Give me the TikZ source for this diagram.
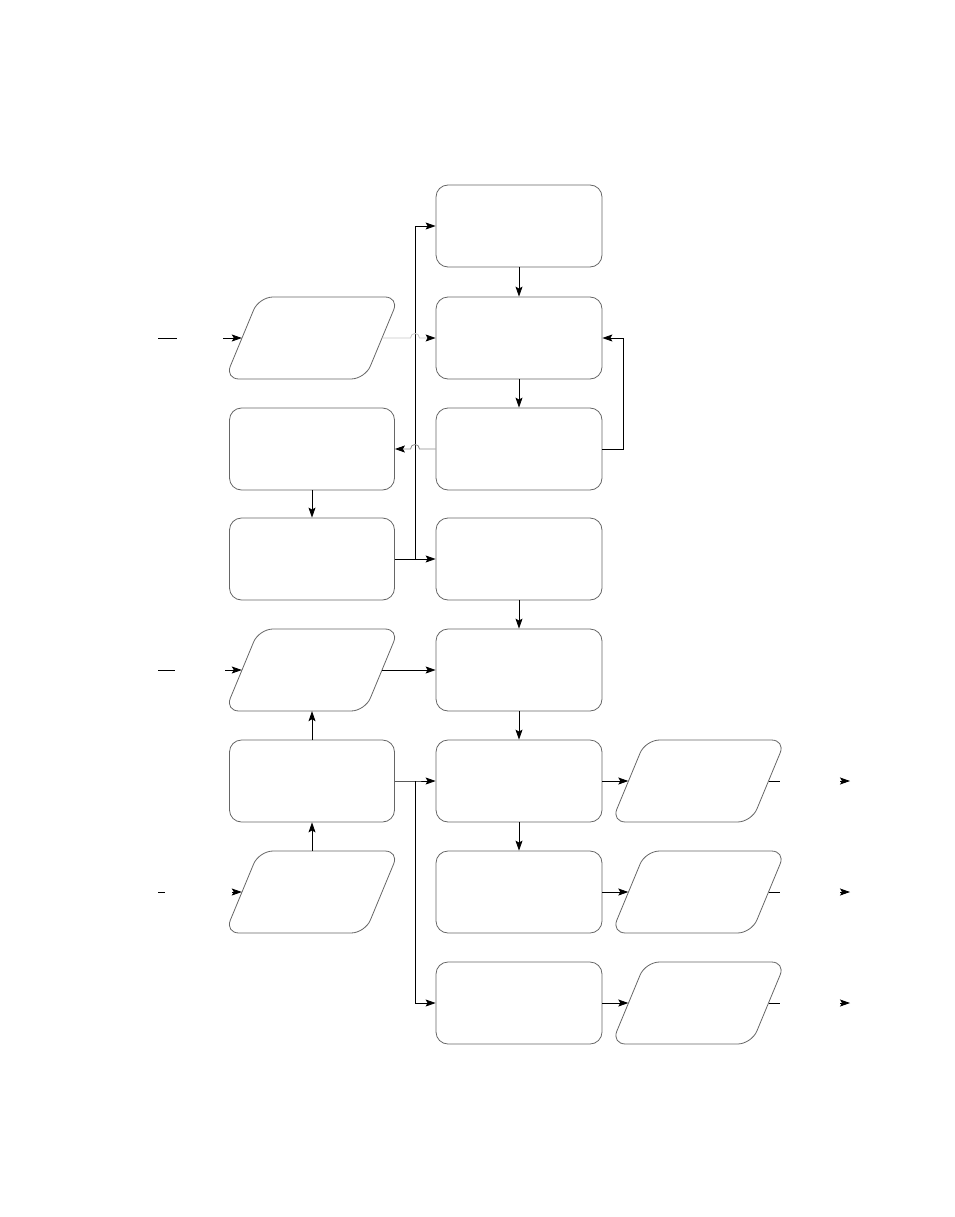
\documentclass[tikz,border=0pt]{standalone}
\usetikzlibrary{arrows.meta}
\begin{document}
\begin{tikzpicture}[x=1pt,y=-1pt,
  boxshape/.style={draw=black!60,line width=0.8pt,rounded corners=12pt,minimum width=166pt,minimum height=82pt,inner sep=0pt},
  anchorbox/.style={minimum width=140pt,minimum height=82pt,inner sep=0pt},
  parashape/.style={draw=black!60,line width=0.8pt,rounded corners=14pt},
  conn/.style={draw=black,line width=0.8pt},
  arr/.style={conn,-{Stealth[length=10pt,width=7pt,inset=2pt,color=black]}},
  garr/.style={draw=black!22,line width=0.8pt,-{Stealth[length=10pt,width=7pt,inset=2pt,color=black]}},
  garr2/.style={draw=black!45,line width=0.8pt,-{Stealth[length=10pt,width=7pt,inset=2pt,color=black]}}
]
\useasboundingbox (0,0) rectangle (954,1217);
\newcommand{\mypara}[3]{%
  \node[anchorbox] (#1) at (#2,#3) {};
  \draw[parashape] (#2-53,#3-41) -- (#2+87,#3-41) -- (#2+53,#3+41) -- (#2-87,#3+41) -- cycle;}
% middle column
\node[boxshape] (m1) at (519,226) {};
\node[boxshape] (m2) at (519,338) {};
\node[boxshape] (m3) at (519,449) {};
\node[boxshape] (m4) at (519,559) {};
\node[boxshape] (m5) at (519,670) {};
\node[boxshape] (m6) at (519,781) {};
\node[boxshape] (m7) at (519,892) {};
\node[boxshape] (m8) at (519,1003) {};
% left column
\mypara{p2}{312}{338}
\node[boxshape,minimum width=165pt] (l3) at (312,449) {};
\node[boxshape,minimum width=165pt] (l4) at (312,559) {};
\mypara{p5}{312}{670}
\node[boxshape,minimum width=165pt] (l6) at (312,781) {};
\mypara{p7}{312}{892}
% right column
\mypara{r6}{698.5}{781}
\mypara{r7}{698.5}{892}
\mypara{r8}{698.5}{1003}
% vertical arrows in middle
\draw[arr] (m1) -- (m2);
\draw[arr] (m2) -- (m3);
\draw[arr] (m4) -- (m5);
\draw[arr] (m5) -- (m6);
\draw[arr] (m6) -- (m7);
% left vertical arrows
\draw[arr] (l3) -- (l4);
\draw[arr] (l6.north) -- (p5.south);
\draw[arr] (p7.north) -- (l6.south);
% spine from l4
\coordinate (s4) at (415,559);
\draw[arr] (l4.east) -- (s4) |- (m1.west);
\draw[arr] (s4) -- (m4.west);
% spine from l6
\coordinate (s6) at (415,781);
\draw[arr] (l6.east) -- (s6) -- (m6.west);
\draw[arr] (s6) |- (m8.west);
% gray hop connectors
\draw[garr] (p2.east) -- (410.5,338) .. controls (410.5,332) and (419.5,332) .. (419.5,338) -- (m2.west);
\draw[garr2] (m3.west) -- (419.5,449) .. controls (419.5,443) and (410.5,443) .. (410.5,449) -- (l3.east);
% loop
\draw[arr] (m3.east) -- (623,449) |- (m2.east);
% row 5
\draw[arr] (p5.east) -- (m5.west);
% to right parallelograms
\draw[arr] (m6.east) -- (r6.west);
\draw[arr] (m7.east) -- (r7.west);
\draw[arr] (m8.east) -- (r8.west);
% input stubs
\coordinate (a2) at (158,338); \coordinate (b2) at (177,338); \coordinate (c2) at (223,338);
\draw[conn] (a2) -- (b2);
\draw[arr] (c2) -- (p2.west);
\coordinate (a5) at (158,670); \coordinate (b5) at (175,670); \coordinate (c5) at (225,670);
\draw[conn] (a5) -- (b5);
\draw[arr] (c5) -- (p5.west);
\coordinate (a7) at (158,892); \coordinate (b7) at (165,892); \coordinate (c7) at (232,892);
\draw[conn] (a7) -- (b7);
\draw[arr] (c7) -- (p7.west);
% output stubs
\foreach \r/\y in {r6/781,r7/892,r8/1003}{
  \coordinate (o1\r) at (780,\y);
  \coordinate (o2\r) at (840,\y);
  \coordinate (o3\r) at (850,\y);
  \draw[conn] (\r.east) -- (o1\r);
  \draw[arr] (o2\r) -- (o3\r);
}
\end{tikzpicture}
\end{document}
